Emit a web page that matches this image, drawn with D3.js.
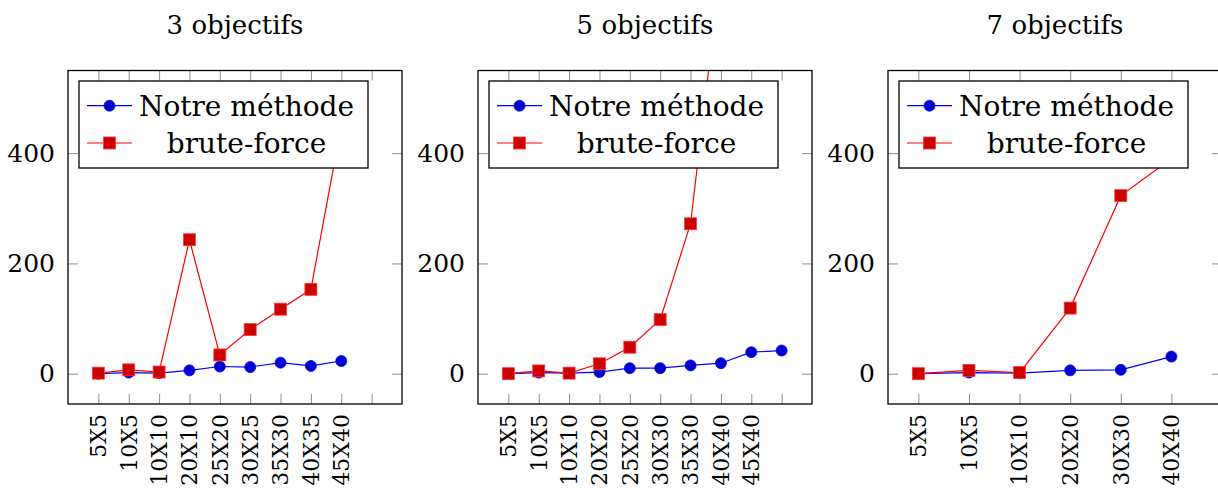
<!DOCTYPE html>
<html>
<head>
<meta charset="utf-8">
<script src="https://cdn.jsdelivr.net/npm/d3@7"></script>
<style>
  html, body { margin: 0; padding: 0; background: #fff; }
  svg { display: block; }
  text { font-family: "DejaVu Serif", serif; fill: #000; }
</style>
</head>
<body>
<svg id="chart" width="1218" height="498"></svg>
<script>
// Run-time comparison: "Notre méthode" vs brute-force, per instance size
const panelTitles = ["3 objectifs", "5 objectifs", "7 objectifs"];
const seriesNames = ["Notre méthode", "brute-force"];
const yTickValues = [0, 200, 400];

const categories3 = ["5X5", "10X5", "10X10", "20X10", "25X20", "30X25", "35X30", "40X35", "45X40"];
const ours3 = [0, 2, 1, 6, 13, 12, 20, 14, 23];
const brute3 = [1, 7, 3, 243, 34, 80, 117, 153, 450];

const categories5 = ["5X5", "10X5", "10X10", "20X20", "25X20", "30X30", "35X30", "40X40", "45X40"];
const ours5 = [0, 2, 1, 3, 10, 10, 15, 19, 39, 42];
const brute5 = [0, 5, 1, 18, 48, 98, 272, 740];

const categories7 = ["5X5", "10X5", "10X10", "20X20", "30X30", "40X40"];
const ours7 = [0, 2, 1, 6, 7, 31];
const brute7 = [0, 6, 2, 119, 323, 390];

const panels = [
  { title: panelTitles[0], cats: categories3, ours: ours3, brute: brute3, xDomain: [-1, 10], nTicks: 10 },
  { title: panelTitles[1], cats: categories5, ours: ours5, brute: brute5, xDomain: [-1, 10], nTicks: 10 },
  { title: panelTitles[2], cats: categories7, ours: ours7, brute: brute7, xDomain: [-0.6, 6], nTicks: 6 }
];

const svg = d3.select("#chart");
const plotW = 334, plotTop = 70.5, plotBottom = 404;
const lefts = [68, 478, 888];
const tickLen = 10;
const tickColor = "#8c8c8c";

const blue = { line: "#0000ff", fill: "#0000cc" };
const red = { line: "#ff0000", fill: "#cc0000", edge: "#ff3b3b" };

const y = d3.scaleLinear().domain([-55, 550]).range([plotBottom, plotTop]);

panels.forEach((p, i) => {
  const left = lefts[i];
  const x = d3.scaleLinear().domain(p.xDomain).range([left, left + plotW]);
  const tickIdx = d3.range(p.nTicks);
  const g = svg.append("g");

  // title
  g.append("text")
    .attr("x", left + plotW / 2).attr("y", 34)
    .attr("text-anchor", "middle")
    .style("font-size", "26px")
    .text(p.title);

  // clip region
  const clipId = "clip" + i;
  svg.append("clipPath").attr("id", clipId)
    .append("rect").attr("x", left).attr("y", plotTop)
    .attr("width", plotW).attr("height", plotBottom - plotTop);

  // inward ticks on all four sides
  const axB = d3.axisBottom(x).tickValues(tickIdx).tickSize(tickLen).tickFormat("");
  const gb = g.append("g").attr("transform", `translate(0,${plotBottom - tickLen})`).call(axB);
  const axT = d3.axisTop(x).tickValues(tickIdx).tickSize(tickLen).tickFormat("");
  const gt = g.append("g").attr("transform", `translate(0,${plotTop + tickLen})`).call(axT);
  const axL = d3.axisLeft(y).tickValues(yTickValues).tickSize(tickLen).tickFormat("");
  const gl = g.append("g").attr("transform", `translate(${left + tickLen},0)`).call(axL);
  const axR = d3.axisRight(y).tickValues(yTickValues).tickSize(tickLen).tickFormat("");
  const gr = g.append("g").attr("transform", `translate(${left + plotW - tickLen},0)`).call(axR);
  [gb, gt, gl, gr].forEach(a => {
    a.select(".domain").remove();
    a.selectAll(".tick line").attr("stroke", tickColor).attr("stroke-width", 1);
  });

  // y tick labels
  g.selectAll(".ylab").data(yTickValues).enter().append("text")
    .attr("x", left - 13).attr("y", d => y(d))
    .attr("dy", "0.35em")
    .attr("text-anchor", "end")
    .style("font-size", "25px")
    .text(d => d);

  // x tick labels (rotated)
  g.selectAll(".xlab").data(p.cats).enter().append("text")
    .attr("transform", (d, k) => `translate(${x(k)},414) rotate(-90)`)
    .attr("dy", "0.36em")
    .attr("text-anchor", "end")
    .style("font-size", "22px")
    .text(d => d);

  // series
  const plot = g.append("g").attr("clip-path", `url(#${clipId})`);
  const line = d3.line().x((d, k) => x(k)).y(d => y(d));

  plot.append("path").datum(p.ours).attr("d", line)
    .attr("fill", "none").attr("stroke", blue.line).attr("stroke-width", 1.2);
  plot.selectAll(".dot").data(p.ours).enter().append("circle")
    .attr("cx", (d, k) => x(k)).attr("cy", d => y(d)).attr("r", 5.5)
    .attr("fill", blue.fill).attr("stroke", blue.line).attr("stroke-width", 0.8);

  plot.append("path").datum(p.brute).attr("d", line)
    .attr("fill", "none").attr("stroke", red.line).attr("stroke-width", 1.2);
  plot.selectAll(".sq").data(p.brute).enter().append("rect")
    .attr("x", (d, k) => x(k) - 6).attr("y", d => y(d) - 6)
    .attr("width", 12).attr("height", 12)
    .attr("fill", red.fill).attr("stroke", red.edge).attr("stroke-width", 0.8);

  // frame
  g.append("rect")
    .attr("x", left).attr("y", plotTop).attr("width", plotW).attr("height", plotBottom - plotTop)
    .attr("fill", "none").attr("stroke", "#000").attr("stroke-width", 1.3);

  // legend
  const lg = g.append("g").attr("transform", `translate(${left + 11},81)`);
  lg.append("rect").attr("width", 289).attr("height", 87)
    .attr("fill", "#fff").attr("stroke", "#000").attr("stroke-width", 1.3);
  const rows = [24.7, 62];
  seriesNames.forEach((name, k) => {
    const cy = rows[k];
    const c = k === 0 ? blue : red;
    lg.append("line").attr("x1", 8).attr("x2", 53).attr("y1", cy).attr("y2", cy)
      .attr("stroke", c.line).attr("stroke-width", 1.2);
    if (k === 0) {
      lg.append("circle").attr("cx", 30.5).attr("cy", cy).attr("r", 5.5)
        .attr("fill", blue.fill).attr("stroke", blue.line).attr("stroke-width", 0.8);
    } else {
      lg.append("rect").attr("x", 24.5).attr("y", cy - 6).attr("width", 12).attr("height", 12)
        .attr("fill", red.fill).attr("stroke", red.edge).attr("stroke-width", 0.8);
    }
    lg.append("text").attr("x", 167.5).attr("y", cy).attr("dy", "0.35em")
      .attr("text-anchor", "middle").style("font-size", "28px").text(name);
  });
});
</script>
</body>
</html>
